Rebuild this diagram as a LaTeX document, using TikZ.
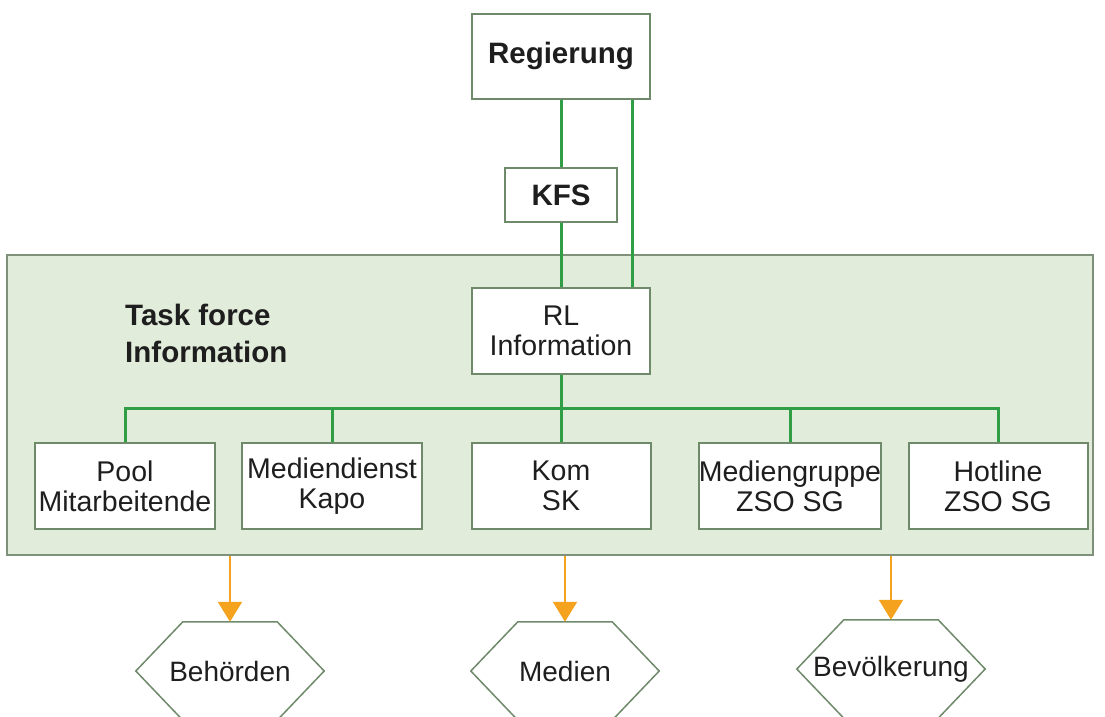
\documentclass[tikz,border=0pt]{standalone}
\usepackage{fontspec}
\setmainfont{Liberation Sans}
\usetikzlibrary{arrows.meta}

\definecolor{panelfill}{HTML}{E2ECDA}
\definecolor{paneledge}{HTML}{7F917A}
\definecolor{boxedge}{HTML}{6F8A6B}
\definecolor{tiegreen}{HTML}{2F9E44}
\definecolor{feedorange}{HTML}{F5A21E}
\definecolor{inkgray}{HTML}{1E1E1E}

\tikzset{
  unit/.style={draw=boxedge,line width=2pt,fill=white,minimum height=86pt,
    align=center,inner sep=0pt,text=inkgray,font=\fontsize{28.5}{30}\selectfont},
  head/.style={unit,font=\fontsize{29.5}{32}\selectfont\bfseries},
  target/.style={minimum width=188pt,minimum height=98pt,inner sep=0pt,
    text=inkgray,font=\fontsize{28}{30}\selectfont},
  hexline/.style={draw=boxedge,line width=1.5pt},
  tie/.style={tiegreen,line width=3pt},
  feed/.style={feedorange,line width=2pt,-{Triangle[width=24pt,length=20pt]}},
}

\begin{document}
\begin{tikzpicture}[x=1pt,y=-1pt]
  \useasboundingbox (0,0) rectangle (1105,716);

  % Task force
  \node[draw=paneledge,line width=2pt,fill=panelfill,minimum width=1086pt,
    minimum height=300pt,inner sep=0pt] (tf) at (550,405) {};
  \node[anchor=west,align=left,inner sep=0pt,text=inkgray,
    font=\fontsize{29.5}{37}\selectfont\bfseries] (tfl) at (125,333)
    {Task force\\Information};

  % oben
  \node[head,minimum width=178pt,minimum height=85pt] (reg) at (561,56) {Regierung};
  \node[head,minimum width=112pt,minimum height=54pt] (kfs) at (561,195) {KFS};
  \node[unit,minimum width=178pt] (rl) at (561,331) {RL\\Information};

  % Reihe
  \node[unit,minimum width=180pt] (pool) at (125,486) {Pool\\Mitarbeitende};
  \node[unit,minimum width=180pt] (mdk) at (332,486) {Mediendienst\\Kapo};
  \node[unit,minimum width=179pt] (kom) at (561,486) {Kom\\SK};
  \node[unit,minimum width=180pt] (mgz) at (790,486) {Mediengruppe\\ZSO SG};
  \node[unit,minimum width=179pt] (hot) at (998,486) {Hotline\\ZSO SG};

  % Adressaten
  \node[target] (beh) at (230,671) {Behörden};
  \node[target] (med) at (565,671) {Medien};
  \node[target] (bev) at (891,669) {Bevölkerung};
  \foreach \t in {beh,med,bev}
    \draw[hexline] (\t.west) -- ([xshift=47pt]\t.north west)
      -- ([xshift=-47pt]\t.north east) -- (\t.east)
      -- ([xshift=-47pt]\t.south east) -- ([xshift=47pt]\t.south west) -- cycle;

  % Linien
  \draw[tie] (reg) -- (kfs);
  \draw[tie] (kfs) -- (rl);
  \draw[tie] ([xshift=71pt]reg.south) -- ([xshift=71pt]rl.north);
  \coordinate (bus) at ([yshift=-33pt]rl.south);
  \draw[tie] (rl) -- (kom);
  \foreach \u in {pool,mdk,mgz,hot}
    \draw[tie] (\u.north) |- (bus);

  % Pfeile
  \foreach \t in {beh,med,bev}
    \draw[feed] (\t.north |- tf.south) -- (\t.north);
\end{tikzpicture}
\end{document}
